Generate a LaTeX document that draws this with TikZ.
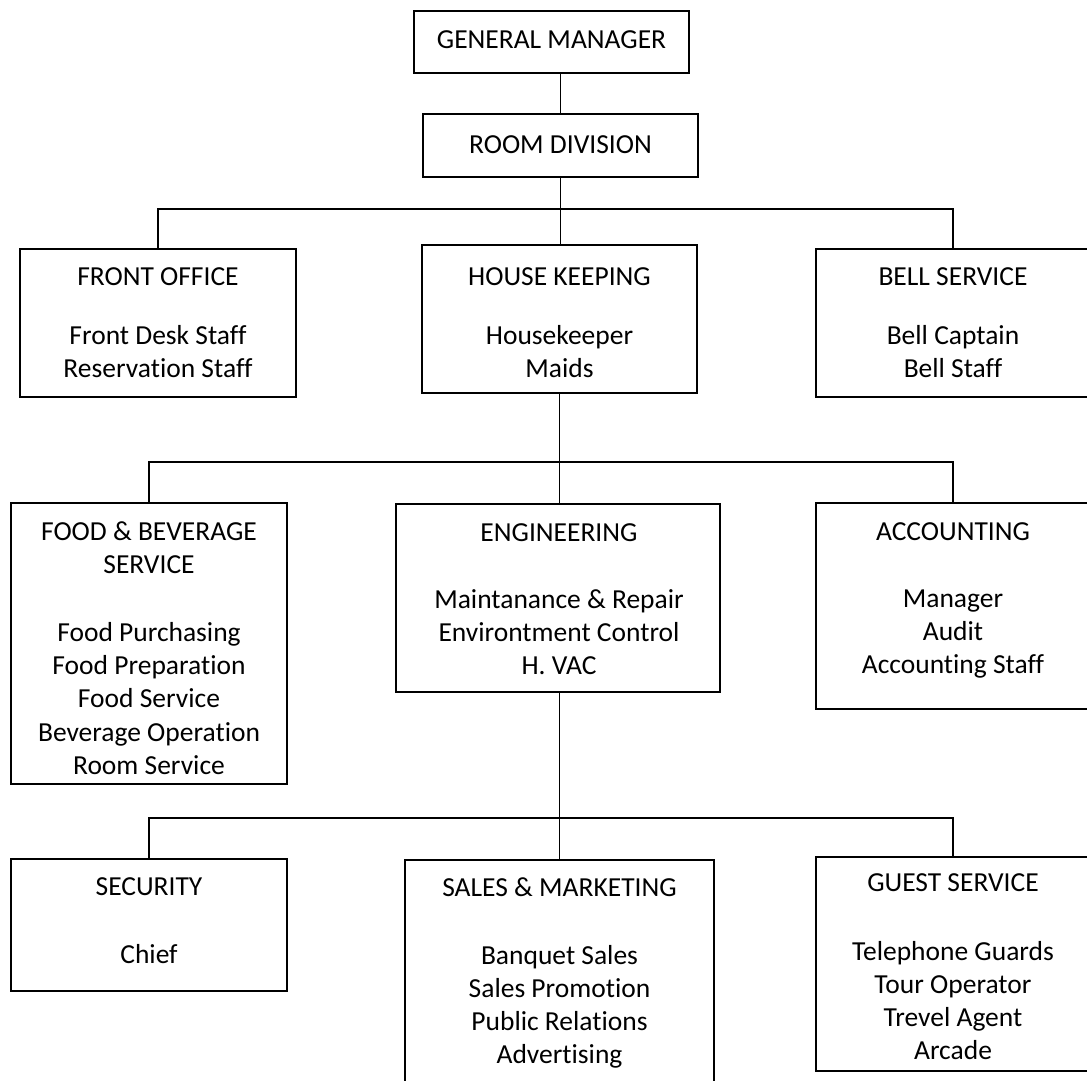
\documentclass[tikz,border=0pt]{standalone}
\usepackage{fontspec}
\setmainfont{Carlito}[Ligatures=NoCommon]
\begin{document}
\begin{tikzpicture}[x=1pt,y=-1pt,
  unit/.style={draw=black, line width=2pt, rectangle, inner sep=0pt, outer sep=0pt},
  txt/.style={inner sep=0pt, outer sep=0pt, align=center, anchor=north,
              font=\fontsize{27.5}{33.3}\selectfont},
  link/.style={draw=black, line width=1.9pt}]
% page frame
\clip (0,0) rectangle (1087,1081);
\fill[white] (0,0) rectangle (1087,1081);

% boxes
\node[unit, minimum width=275pt, minimum height=62.3pt] (gm)  at (551.5,41.9) {};
\node[unit, minimum width=275pt, minimum height=63pt]   (rd)  at (560.5,145.5) {};
\node[unit, minimum width=276pt, minimum height=148pt]  (fo)  at (158,323) {};
\node[unit, minimum width=275pt, minimum height=148pt]  (hk)  at (559.5,319) {};
\node[unit, minimum width=274pt, minimum height=148pt]  (bs)  at (953,323) {};
\node[unit, minimum width=276pt, minimum height=281pt]  (fb)  at (149,643.5) {};
\node[unit, minimum width=324pt, minimum height=188pt]  (eng) at (558,598) {};
\node[unit, minimum width=274pt, minimum height=206pt]  (acc) at (953,606) {};
\node[unit, minimum width=276pt, minimum height=132pt]  (sec) at (149,925) {};
\node[unit, minimum width=309pt, minimum height=250pt]  (sm)  at (559.5,985) {};
\node[unit, minimum width=274pt, minimum height=214pt]  (gs)  at (953,964) {};

% box texts
\node[txt] (gm-t)  at (551.5,25)  {\strut GENERAL MANAGER};
\node[txt] (rd-t)  at (560.5,129.7) {\strut ROOM DIVISION};
\node[txt] (fo-t)  at (158,261.7) {\strut FRONT OFFICE\\[25.7pt]Front Desk Staff\\Reservation Staff};
\node[txt] (hk-t)  at (559.5,261.7) {\strut HOUSE KEEPING\\[25.7pt]Housekeeper\\Maids};
\node[txt] (bs-t)  at (953,261.7) {\strut BELL SERVICE\\[25.7pt]Bell Captain\\Bell Staff};
\node[txt] (fb-t)  at (149,516.7) {\strut FOOD \& BEVERAGE\\SERVICE\\[34.7pt]Food Purchasing\\Food Preparation\\Food Service\\Beverage Operation\\Room Service};
\node[txt] (eng-t) at (559,517.7) {\strut ENGINEERING\\[33.7pt]Maintanance \& Repair\\Environtment Control\\H. VAC};
\node[txt] (acc-t) at (953,516.7) {\strut ACCOUNTING\\[33.7pt]Manager\\Audit\\Accounting Staff};
\node[txt] (sec-t) at (149,871.7) {\strut SECURITY\\[34.7pt]Chief};
\node[txt] (sm-t)  at (559.5,873.4) {\strut SALES \& MARKETING\\[34pt]Banquet Sales\\Sales Promotion\\Public Relations\\Advertising};
\node[txt] (gs-t)  at (953,868.4) {\strut GUEST SERVICE\\[35pt]Telephone Guards\\Tour Operator\\Trevel Agent\\Arcade};

% bus lines
\coordinate (bus1) at (560,209);
\coordinate (bus2) at (560,462);
\coordinate (bus3) at (560,818);

% connectors
\draw[link] (rd.north |- gm.south) -- (rd.north);
\draw[link] (rd.south) -- (rd.south |- hk.north);
\draw[link] (fo.north) |- (bus1) -| (bs.north);
\draw[link] (hk.south) -- (hk.south |- eng.north);
\draw[link] (fb.north) |- (bus2) -| (acc.north);
\draw[link] (sm.north |- eng.south) -- (sm.north);
\draw[link] (sec.north) |- (bus3) -| (gs.north);
\end{tikzpicture}
\end{document}
